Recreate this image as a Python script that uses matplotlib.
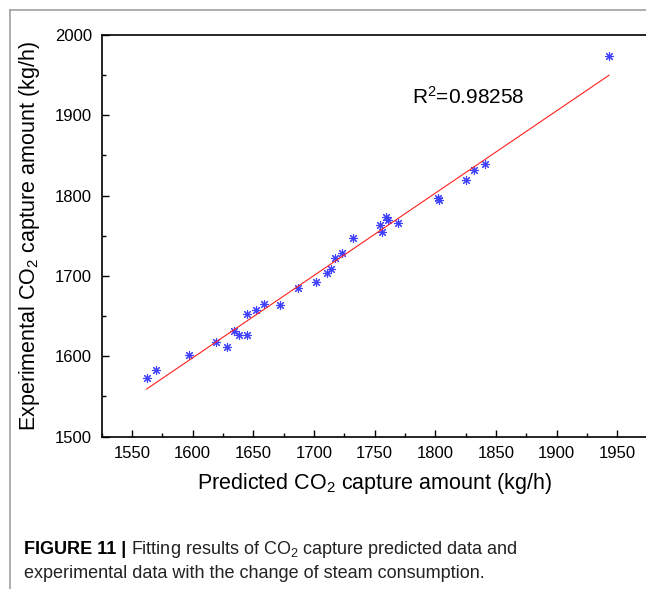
import numpy as np
import matplotlib
matplotlib.use('Agg')
import matplotlib.pyplot as plt
from matplotlib.lines import Line2D
from matplotlib.ticker import MultipleLocator

plt.rcParams['font.family'] = ['Liberation Sans', 'DejaVu Sans']
plt.rcParams['mathtext.default'] = 'regular'

# predicted vs experimental CO2 capture (kg/h)
predicted = [1562, 1570, 1597, 1619, 1628, 1634, 1638, 1645, 1645, 1652,
             1659, 1672, 1687, 1702, 1711, 1714, 1717, 1723, 1732, 1756,
             1754, 1759, 1761, 1769, 1802, 1803, 1825, 1832, 1841, 1943]
experimental = [1573, 1583, 1601, 1618, 1612, 1632, 1626, 1626, 1653, 1657,
                1665, 1664, 1685, 1693, 1703, 1708, 1722, 1728, 1747, 1755,
                1763, 1773, 1770, 1766, 1797, 1795, 1819, 1832, 1839, 1974]
r2_text = 'R$^2$=0.98258'

x_ticks = [1550, 1600, 1650, 1700, 1750, 1800, 1850, 1900, 1950]
y_ticks = [1500, 1600, 1700, 1800, 1900, 2000]

fig = plt.figure(figsize=(6.46, 5.89), dpi=100)
ax = fig.add_axes([0.1574, 0.2589, 0.8454, 0.6817])

ax.plot(predicted, experimental, linestyle='none', marker=(8, 2, 0),
        markersize=6.5, markeredgewidth=0.8, color='#4040ff')

coef = np.polyfit(predicted, experimental, 1)
xs = np.array([min(predicted), max(predicted)])
ax.plot(xs, np.polyval(coef, xs), color='#ff2020', linewidth=0.8)

ax.set_xlim(1525, 1975)
ax.set_ylim(1500, 2000)
ax.set_xticks(x_ticks)
ax.set_yticks(y_ticks)
ax.xaxis.set_minor_locator(MultipleLocator(25))
ax.yaxis.set_minor_locator(MultipleLocator(50))
ax.tick_params(which='major', direction='in', length=5, width=1, labelsize=12, pad=7)
ax.tick_params(which='minor', direction='in', length=3, width=1)
for s in ax.spines.values():
    s.set_linewidth(1.2)

ax.text(1780.6, 1913.7, r2_text, fontsize=15, ha='left', va='baseline')

ax.set_xlabel('Predicted CO$_2$ capture amount (kg/h)', fontsize=15.5, labelpad=7)
ax.set_ylabel('Experimental CO$_2$ capture amount (kg/h)', fontsize=15.5, labelpad=9)

# page border lines
fig.add_artist(Line2D([10 / 646, 10 / 646], [0, 1 - 10 / 589], color='#a0a0a0', linewidth=1.2))
fig.add_artist(Line2D([10 / 646, 1], [1 - 10 / 589, 1 - 10 / 589], color='#a0a0a0', linewidth=1.2))

# caption, bold label followed by regular text
y1 = 1 - 549 / 589
t1 = fig.text(24 / 646, y1, 'FIGURE 11 |', fontsize=13, fontweight='bold',
              va='center', ha='left')
fig.canvas.draw()
bb = t1.get_window_extent()
fig.text(bb.x1 / 646 + 5 / 646, y1, 'Fitting results of CO$_2$ capture predicted data and',
         fontsize=13, va='center', ha='left', color='#222222')
fig.text(24 / 646, 1 - 574 / 589, 'experimental data with the change of steam consumption.',
         fontsize=13, va='center', ha='left', color='#222222')

fig.savefig('out.png', dpi=100)
